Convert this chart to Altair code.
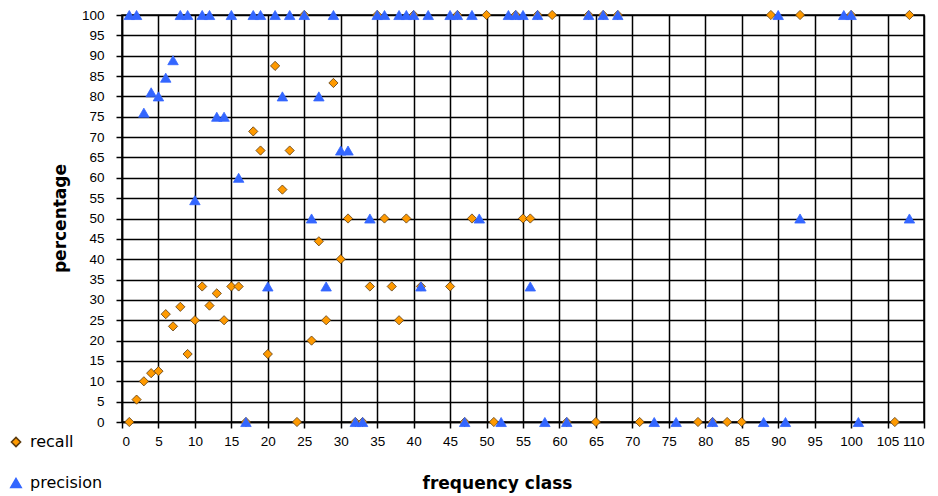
import altair as alt
import pandas as pd

# recall (orange diamonds)
recall_x = [1, 2, 3, 4, 5, 6, 7, 8, 9, 10, 11, 12, 13, 14, 15, 16, 17, 18, 19, 20,
            21, 22, 23, 24, 25, 26, 27, 28, 29, 30, 31, 32, 33, 34, 35, 36, 37, 38, 39, 40,
            41, 45, 46, 47, 48, 50, 51, 54, 55, 56, 57, 59, 61, 64, 65, 66, 68, 71, 79, 81,
            83, 85, 89, 93, 100, 106, 108]
recall_y = [0, 5.5, 10, 12, 12.5, 26.5, 23.5, 28.3, 16.7, 25, 33.3, 28.6, 31.6, 25, 33.3, 33.3, 0, 71.4, 66.7, 16.7,
            87.5, 57.1, 66.7, 0, 100, 20, 44.4, 25, 83.3, 40, 50, 0, 0, 33.3, 100, 50, 33.3, 25, 50, 100,
            33.3, 33.3, 100, 0, 50, 100, 0, 100, 50, 50, 100, 100, 0, 100, 0, 100, 100, 0, 0, 0,
            0, 0, 100, 100, 100, 0, 100]

# precision (blue triangles)
prec_x = [1, 2, 3, 4, 5, 6, 7, 8, 9, 10, 11, 12, 13, 14, 15, 16, 17, 18, 19, 20,
          21, 22, 23, 25, 26, 27, 28, 29, 30, 31, 32, 33, 34, 35, 36, 38, 39, 40, 41, 42,
          45, 46, 47, 48, 49, 52, 53, 54, 55, 56, 57, 58, 61, 64, 66, 68, 73, 76, 81, 88,
          90, 91, 93, 99, 100, 101, 108]
prec_y = [100, 100, 76, 81, 80, 84.6, 88.9, 100, 100, 54.5, 100, 100, 75, 75, 100, 60, 0, 100, 100, 33.3,
          100, 80, 100, 100, 50, 80, 33.3, 100, 66.7, 66.7, 0, 0, 50, 100, 100, 100, 100, 100, 33.3, 100,
          100, 100, 0, 100, 50, 0, 100, 100, 100, 33.3, 100, 0, 0, 100, 100, 100, 0, 0, 0, 0,
          100, 0, 50, 100, 100, 0, 50]

series = ["recall", "precision"]
x_ticks = list(range(0, 111, 5))
y_ticks = list(range(0, 101, 5))

df = pd.concat([
    pd.DataFrame({"fc": recall_x, "pct": recall_y, "series": "recall", "order": 0}),
    pd.DataFrame({"fc": prec_x, "pct": prec_y, "series": "precision", "order": 1}),
], ignore_index=True)

xscale = alt.Scale(domain=[0, 110], nice=False)
yscale = alt.Scale(domain=[0, 100], nice=False)

common = dict(grid=True, gridColor="black", gridOpacity=1, gridWidth=1.5,
              tickColor="black", tickSize=6, tickWidth=1.5,
              domainColor="black", domainWidth=1.5,
              labelFont="Liberation Sans", labelFontSize=13.5, labelColor="black",
              titleFont="DejaVu Sans", titleFontSize=17, titleFontWeight="bold",
              titleColor="black")

xaxis = alt.Axis(values=x_ticks, title="frequency class",
                 titleX=375, titleY=61, titleBaseline="middle",
                 labelPadding=6, **common)
yaxis = alt.Axis(values=y_ticks, title="percentage",
                 titleX=-62, titleY=203, titleBaseline="middle", titleAlign="center",
                 titleAngle=270, labelPadding=12, **common)

leg = dict(title=None, orient="none", legendX=-114, legendY=419, direction="vertical",
           rowPadding=25, labelFontSize=16, labelFont="DejaVu Sans", labelColor="black",
           labelOffset=6)

chart = alt.Chart(df).mark_point(filled=True, opacity=1, strokeWidth=0.8, clip=False).encode(
    x=alt.X("fc:Q", scale=xscale, axis=xaxis),
    y=alt.Y("pct:Q", scale=yscale, axis=yaxis),
    color=alt.Color("series:N", scale=alt.Scale(domain=series, range=["#FF9A00", "#3366FF"]),
                    legend=alt.Legend(**leg)),
    shape=alt.Shape("series:N", scale=alt.Scale(domain=series, range=["diamond", "triangle-up"]),
                    legend=alt.Legend(**leg)),
    stroke=alt.Stroke("series:N", scale=alt.Scale(domain=series, range=["#5a3a10", "#3366FF"]),
                      legend=alt.Legend(**leg)),
    size=alt.Size("series:N", scale=alt.Scale(domain=series, range=[85, 110]),
                  legend=alt.Legend(**leg)),
    order=alt.Order("order:Q"),
).properties(
    width=802, height=407,
    background="white",
    autosize=alt.AutoSizeParams(type="none"),
    padding={"left": 114, "top": 7, "right": 6, "bottom": 76},
).configure_view(
    stroke="black", strokeWidth=1.5,
)

chart.save("out.html", embed_options={"renderer": "svg", "actions": False})
